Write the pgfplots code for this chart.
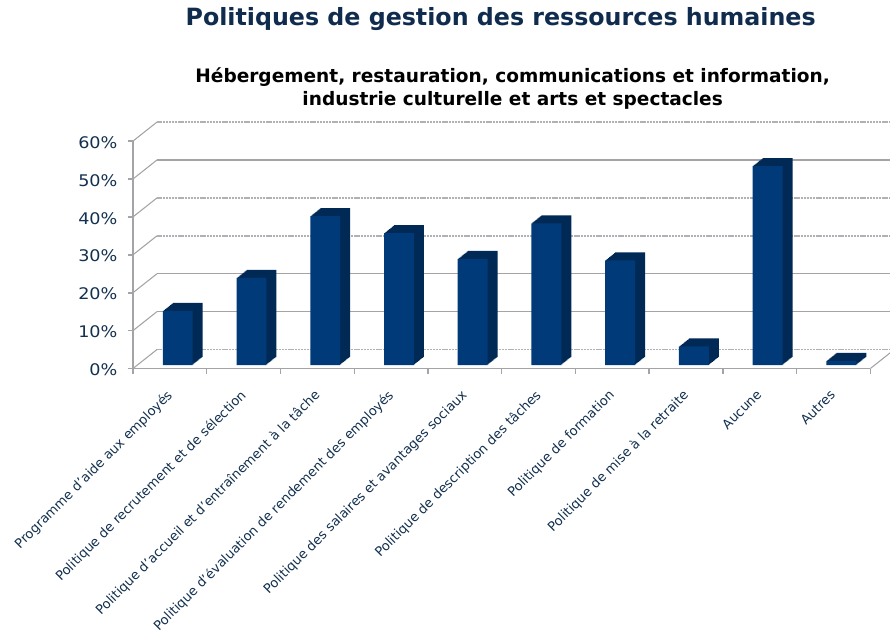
\documentclass[border=0pt]{standalone}
\usepackage{pgfplots}
\usepackage{pgfplotstable}
\usepackage{fontspec}
\setmainfont{DejaVu Sans}
\pgfplotsset{compat=1.18}
\definecolor{navytext}{HTML}{12304F}
\definecolor{titlenavy}{HTML}{0F2B4D}
\definecolor{barfront}{HTML}{003A78}
\definecolor{barside}{HTML}{002A55}
\definecolor{gridgray}{HTML}{A3A3A8}
\pgfplotstableread{
x y
0.5 14.3
1.5 23.0
2.5 39.3
3.5 34.8
4.5 28.0
5.5 37.4
6.5 27.6
7.5 4.9
8.5 52.5
9.5 1.1
}\bars
\tikzset{solidgrid/.style={draw=gridgray,line width=1pt},
  dotgrid/.style={draw=gridgray!85,line width=1.3pt,dash pattern=on 0.8pt off 0.3pt}}
\begin{document}
\begin{tikzpicture}
\path[use as bounding box] (0,0) rectangle (667.5pt,472.5pt);
\clip (0,0) rectangle (667.5pt,472.5pt);
\node[text=titlenavy,font=\bfseries\fontsize{17.8}{20}\selectfont] at (375.5pt,458pt) {Politiques de gestion des ressources humaines};
\node[text=black,font=\bfseries\fontsize{13.9}{17.25}\selectfont,align=center] at (384.5pt,406pt) {Hébergement, restauration, communications et information,\\industrie culturelle et arts et spectacles};
\begin{axis}[
  at={(99.75pt,196.1pt)},anchor=origin,
  scale only axis,width=553pt,height=170.6pt,
  xmin=0,xmax=10,ymin=0,ymax=60,clip=false,
  axis x line=bottom,axis y line=left,
  axis line style={-,draw=gridgray,line width=1.2pt},
  ytick={0,10,...,60},
  yticklabel={\scalebox{1.1}[1]{\pgfmathprintnumber[assume math mode=true]{\tick}\%}},
  yticklabel style={font=\fontsize{12}{14}\selectfont,text=navytext,inner sep=0pt,xshift=-7.5pt,yshift=-1pt},
  xtick={0.5,1.5,...,9.5},
  xticklabels={Programme d’aide aux employés,Politique de recrutement et de sélection,Politique d’accueil et d’entraînement à la tâche,Politique d’évaluation de rendement des employés,Politique des salaires et avantages sociaux,Politique de description des tâches,Politique de formation,Politique de mise à la retraite,Aucune,Autres},
  xticklabel style={font=\fontsize{9.8}{12}\selectfont,text=navytext,rotate=45,anchor=north east,inner sep=0pt,yshift=-5.5pt,xshift=-10pt},
  minor xtick={0,1,...,10},
  tick align=outside,
  major tick length=4pt,minor tick length=4pt,
  xtick style={draw=none},
  minor x tick style={draw=gridgray,line width=1pt},
  ytick style={draw=gridgray,line width=1.2pt},
]
% back-wall grid
\pgfplotsinvokeforeach{0,10,20,30,40,50,60}{
  \draw[draw=gridgray,line width=0.8pt] (axis cs:0,#1) -- ++(18pt,14.25pt);
}
\pgfplotsinvokeforeach{60,40,30,0}{
  \addplot[dotgrid,forget plot,xshift=18pt,yshift=14.25pt] coordinates {(0,#1)(10,#1)};
}
\pgfplotsinvokeforeach{50,20,10}{
  \addplot[solidgrid,forget plot,xshift=18pt,yshift=14.25pt] coordinates {(0,#1)(10,#1)};
}
\draw[draw=gridgray,line width=0.8pt] (axis cs:10,0) -- ++(18pt,14.25pt);
% bar depth layers, back to front
\pgfplotsinvokeforeach{10,9,...,1}{
  \addplot[ybar,bar width=22.4pt,fill=barside,draw=none,forget plot,
    xshift={5.9pt+#1*0.75pt},yshift={2.6pt+#1*0.6pt}] table[x=x,y=y] {\bars};
}
\addplot[ybar,bar width=22.4pt,fill=barfront,draw=none,forget plot,
    xshift=5.9pt,yshift=2.6pt] table[x=x,y=y] {\bars};
\end{axis}
\end{tikzpicture}
\end{document}
